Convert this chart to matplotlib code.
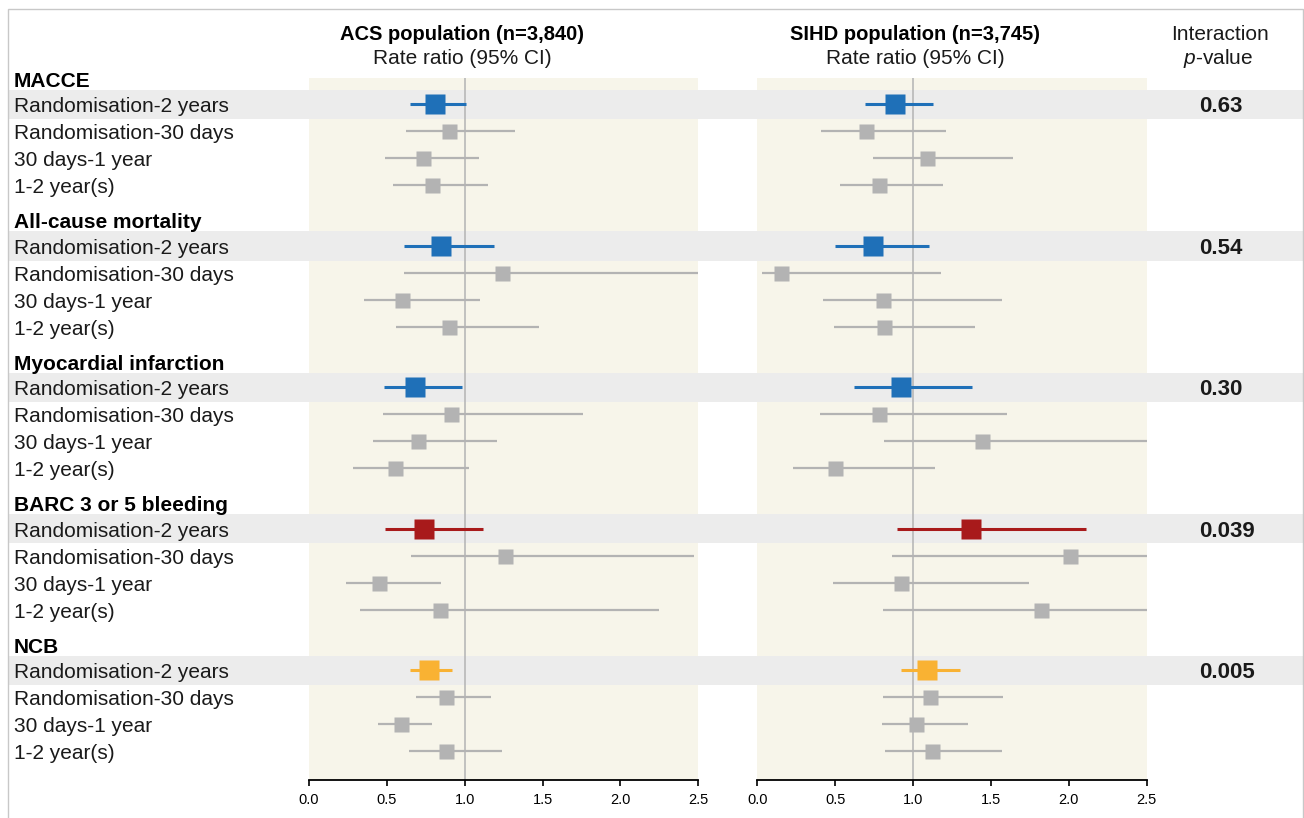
import matplotlib
matplotlib.use('Agg')
import matplotlib.pyplot as plt
from matplotlib.patches import Rectangle
from matplotlib.transforms import blended_transform_factory

plt.rcParams['font.family'] = ['Liberation Sans', 'DejaVu Sans']
plt.rcParams['mathtext.fontset'] = 'custom'
plt.rcParams['mathtext.rm'] = 'Liberation Sans'
plt.rcParams['mathtext.it'] = 'Liberation Sans:italic'

# ---- data ----
groups = ['MACCE', 'All-cause mortality', 'Myocardial infarction',
          'BARC 3 or 5 bleeding', 'NCB']
periods = ['Randomisation-2 years', 'Randomisation-30 days',
           '30 days-1 year', '1-2 year(s)']
p_values = ['0.63', '0.54', '0.30', '0.039', '0.005']

acs_est = [[0.81, 0.90, 0.735, 0.79],
           [0.85, 1.24, 0.60, 0.90],
           [0.68, 0.91, 0.70, 0.55],
           [0.74, 1.26, 0.45, 0.84],
           [0.77, 0.88, 0.59, 0.88]]
acs_lo = [[0.65, 0.62, 0.49, 0.54],
          [0.61, 0.61, 0.35, 0.56],
          [0.48, 0.475, 0.41, 0.28],
          [0.49, 0.655, 0.24, 0.33],
          [0.65, 0.69, 0.44, 0.64]]
acs_hi = [[1.01, 1.32, 1.09, 1.15],
          [1.19, 2.50, 1.10, 1.475],
          [0.98, 1.76, 1.21, 1.03],
          [1.12, 2.47, 0.85, 2.25],
          [0.92, 1.17, 0.79, 1.24]]

sihd_est = [[0.887, 0.70, 1.09, 0.78],
            [0.74, 0.155, 0.81, 0.816],
            [0.925, 0.78, 1.44, 0.50],
            [1.37, 2.01, 0.925, 1.82],
            [1.09, 1.11, 1.02, 1.12]]
sihd_lo = [[0.69, 0.41, 0.745, 0.53],
           [0.50, 0.03, 0.42, 0.49],
           [0.62, 0.40, 0.815, 0.23],
           [0.90, 0.865, 0.486, 0.807],
           [0.92, 0.81, 0.80, 0.82]]
sihd_hi = [[1.13, 1.21, 1.64, 1.19],
           [1.10, 1.18, 1.57, 1.40],
           [1.376, 1.60, 2.50, 1.14],
           [2.11, 2.50, 1.746, 2.50],
           [1.30, 1.575, 1.35, 1.57]]

xticks = [0.0, 0.5, 1.0, 1.5, 2.0, 2.5]

# ---- styles ----
main_colors = ['#1f70b8', '#1f70b8', '#1f70b8', '#a81a1b', '#f9b233']
grey = '#b3b3b3'
cream = '#f7f5ea'
band = '#ececec'

W, H = 1304, 818
ROW_PX = 27.0      # pixels per row
TOP_PX = 78        # pixel row of y = 0 (first header)
GROUP_STEP = 5.24  # rows between group headers
FIRST_ROW = 0.98   # header -> first row
BASE = 8 / ROW_PX  # text baseline sits this far below row centre


def ry(p):
    return -(p - TOP_PX) / ROW_PX


def fy(p):
    return 1 - p / H


fig = plt.figure(figsize=(W / 100, H / 100), dpi=100)

bg = fig.add_axes([0, 0, 1, 1], zorder=0)
bg.set_xlim(0, 1)
bg.set_ylim(ry(H), ry(0))
bg.axis('off')

# frame
fig.add_artist(Rectangle((8 / W, -0.05), (1303 - 8) / W, fy(9) + 0.05,
                         transform=fig.transFigure, fill=False,
                         ec='#c8c8c8', lw=1.0, zorder=5))

panels = []
for x0, x1 in [(309, 698.3), (757.3, 1146.7)]:
    ax = fig.add_axes([x0 / W, fy(780), (x1 - x0) / W, (780 - TOP_PX) / H], zorder=1)
    ax.set_facecolor('none')
    ax.set_xlim(0, 2.5)
    ax.set_ylim(ry(780), ry(TOP_PX))
    panels.append(ax)
    # cream background behind the bands
    tr = blended_transform_factory(ax.transData, bg.transData)
    bg.add_patch(Rectangle((0, ry(780)), 2.5, ry(TOP_PX) - ry(780),
                           transform=tr, color=cream, lw=0, zorder=0))

header_y = [-g * GROUP_STEP for g in range(len(groups))]


def row_y(g, r):
    return header_y[g] - FIRST_ROW - r


for g, grp in enumerate(groups):
    hy = header_y[g]
    bg.text(14 / W, hy - BASE - 0.03, grp, ha='left', va='baseline',
            fontsize=15, fontweight='bold', color='black')
    for r, per in enumerate(periods):
        y = row_y(g, r)
        bg.text(14 / W, y - BASE, per, ha='left', va='baseline', fontsize=15,
                color='#1a1a1a')
        if r == 0:
            bg.axhspan(y - 0.54, y + 0.54, xmin=8 / W, xmax=1303 / W,
                       color=band, lw=0, zorder=1)
            bg.text(1199 / W, y - BASE, p_values[g], ha='left', va='baseline',
                    fontsize=16, fontweight='bold', color='#1a1a1a')

for ax, est, lo, hi in [(panels[0], acs_est, acs_lo, acs_hi),
                        (panels[1], sihd_est, sihd_lo, sihd_hi)]:
    ax.axvline(1.0, color='#b8b8b8', lw=1.2, zorder=1)
    for g in range(len(groups)):
        for r in range(len(periods)):
            y = row_y(g, r)
            if r == 0:
                c, lw, ms = main_colors[g], 2.2, 15
            else:
                c, lw, ms = grey, 1.6, 10.8
            ax.hlines(y, lo[g][r], hi[g][r], color=c, lw=lw, zorder=2)
            ax.plot(est[g][r], y, marker='s', ms=ms, color=c, mec='none',
                    zorder=3)
    for s in ['top', 'left', 'right']:
        ax.spines[s].set_visible(False)
    ax.spines['bottom'].set_linewidth(1.3)
    ax.set_yticks([])
    ax.set_xticks(xticks)
    ax.set_xticklabels(['%.1f' % t for t in xticks],
                       family=['Liberation Sans Narrow', 'Liberation Sans'],
                       fontsize=10.5)
    ax.tick_params(axis='x', direction='out', length=4.5, width=1.2, pad=5)

# column headings
for cx, title in [(462, 'ACS population (n=3,840)'),
                  (915, 'SIHD population (n=3,745)')]:
    fig.text(cx / W, fy(34), title, ha='center', va='center',
             fontsize=14.5, fontweight='bold', color='black')
    fig.text(cx / W, fy(58), 'Rate ratio (95% CI)', ha='center',
             va='center', fontsize=15, color='#1a1a1a')
fig.text(1220 / W, fy(34), 'Interaction', ha='center', va='center',
         fontsize=15, color='#1a1a1a')
fig.text(1218 / W, fy(58), r'$p$-value', ha='center', va='center',
         fontsize=15, color='#1a1a1a')

fig.savefig('out.png', dpi=100)
